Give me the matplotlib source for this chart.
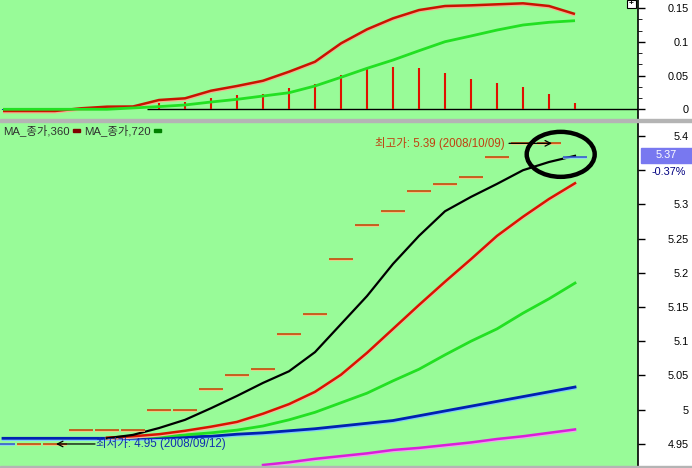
import matplotlib
matplotlib.use('Agg')
import matplotlib.pyplot as plt
import matplotlib.patheffects as pe
from matplotlib.patches import Ellipse, Rectangle
import numpy as np

nan = np.nan
FONT = ['Liberation Sans', 'Noto Sans CJK KR', 'DejaVu Sans']
plt.rcParams['font.family'] = FONT

# ---------------- data ----------------
idx = list(range(23))
close = [4.95, 4.95, 4.95, 4.97, 4.97, 4.97, 5.00, 5.00, 5.03, 5.05, 5.06, 5.11,
         5.14, 5.22, 5.27, 5.29, 5.32, 5.33, 5.34, 5.37, 5.39, 5.39, 5.37]
down_days = [0, 22]

ma_black = [nan] * 4 + [4.958, 4.963, 4.973, 4.985, 5.002, 5.020, 5.039, 5.056, 5.084,
                        5.125, 5.166, 5.213, 5.254, 5.290, 5.311, 5.330, 5.350, 5.362, 5.371]
ma_red = [nan] * 4 + [4.959, 4.961, 4.964, 4.969, 4.975, 4.982, 4.994, 5.008, 5.026,
                      5.051, 5.083, 5.118, 5.153, 5.187, 5.220, 5.254, 5.282, 5.308, 5.331]
ma_green = [nan] * 4 + [4.958, 4.960, 4.961, 4.963, 4.966, 4.970, 4.976, 4.985, 4.996,
                        5.010, 5.024, 5.042, 5.059, 5.080, 5.100, 5.118, 5.141, 5.162, 5.185]
ma_blue = [4.958, 4.958, 4.958, 4.958, 4.958, 4.958, 4.959, 4.960, 4.961, 4.964, 4.966,
           4.969, 4.972, 4.976, 4.980, 4.984, 4.991, 4.998, 5.005, 5.012, 5.019, 5.026, 5.033]
ma_magenta = [nan] * 10 + [4.919, 4.923, 4.928, 4.932, 4.936, 4.941, 4.944, 4.948,
                           4.952, 4.957, 4.961, 4.966, 4.971]

macd = [-0.0025, -0.0025, -0.0025, 0.0015, 0.0039, 0.0042, 0.0138, 0.0163, 0.0276, 0.0346,
        0.0424, 0.0558, 0.0706, 0.0979, 0.1187, 0.135, 0.1473, 0.1533, 0.1543, 0.1558,
        0.1573, 0.1533, 0.1414]
signal = [0.0, 0.0, 0.0, 0.0, 0.0, 0.002, 0.004, 0.0064, 0.0108, 0.0148, 0.0197, 0.0246,
          0.0346, 0.0475, 0.0608, 0.0731, 0.0869, 0.1003, 0.1088, 0.1176, 0.1251, 0.1291, 0.1315]
osc = [-0.0015, -0.0015, -0.0015, 0, 0, 0, 0.0098, 0.011, 0.0168, 0.0212, 0.0227, 0.0316,
       0.0375, 0.0513, 0.0608, 0.0628, 0.0613, 0.0543, 0.0454, 0.0395, 0.0335, 0.0227, 0.0098]

top_ticks = [0, 0.05, 0.1, 0.15]
top_labels = ['0', '0.05', '0.1', '0.15']
bot_ticks = [4.95, 5.0, 5.05, 5.1, 5.15, 5.2, 5.25, 5.3, 5.35, 5.4]
bot_labels = ['4.95', '5', '5.05', '5.1', '5.15', '5.2', '5.25', '5.3', '', '5.4']

last_price = '5.37'
last_change = '-0.37%'
hi_text = '최고가: 5.39 (2008/10/09)'
lo_text = '최저가: 4.95 (2008/09/12)'
legend_items = [('MA_종가,360', '#800000'), ('MA_종가,720', '#008000')]

# ---------------- figure ----------------
W, H = 692, 468
fig = plt.figure(figsize=(W / 100, H / 100), dpi=100)
fig.patch.set_facecolor('white')

BG = '#98FB98'


def fx(px):
    return px / W


def fy(py):
    return 1 - py / H


ax_top = fig.add_axes([0, fy(119), fx(638), 119 / H])
ax_bot = fig.add_axes([0, fy(466), fx(638), 344 / H])

xlim = (-3 / 26, 635 / 26)


def shadow(col, off=-0.75, lw=None):
    k = dict(offset=(0, off), foreground=col)
    if lw is not None:
        k['linewidth'] = lw
    return [pe.Stroke(**k), pe.Normal()]


for ax in (ax_top, ax_bot):
    ax.set_facecolor(BG)
    ax.set_xlim(*xlim)
    ax.set_xticks([])
    for s in ('left', 'top', 'bottom'):
        ax.spines[s].set_visible(False)
    ax.spines['right'].set_color('black')
    ax.spines['right'].set_linewidth(1.2)
    ax.yaxis.tick_right()
    ax.tick_params(axis='y', direction='out', length=5, width=1, pad=31.5,
                   labelsize=7.8, colors='black')

# ---------- top panel ----------
ax_top.set_ylim(-0.0144, 0.1622)
ax_top.hlines(0, 5.54, xlim[1], color='black', lw=1.0, zorder=2)
stem_cols = ['#0020C0' if v < 0 else '#E01000' for v in osc]
ax_top.vlines(idx, 0, osc, colors=stem_cols, lw=1.5, zorder=3)
ax_top.plot(idx, signal, color='#22E022', lw=2.0, zorder=5, solid_capstyle='butt')
ax_top.plot(idx, macd, color='#C81400', lw=1.8, zorder=4, solid_capstyle='butt',
            path_effects=shadow('#F6B090', -0.9, 1.8))
ax_top.set_yticks(top_ticks)
ax_top.set_yticklabels(top_labels)
ax_top.set_yticks(np.arange(-0.0, 0.16, 0.05 / 3), minor=True)
ax_top.tick_params(axis='y', which='minor', length=3, direction='out', right=True)
plt.setp(ax_top.get_yticklabels(), ha='right')

# ---------- bottom panel ----------
ax_bot.set_ylim(4.9175, 5.4205)
ax_bot.plot(idx, ma_magenta, color='#D820D8', lw=1.8, zorder=3,
            path_effects=shadow('#F0A0F0', -0.9, 1.8))
ax_bot.plot(idx, ma_blue, color='#0022B0', lw=2.0, zorder=4,
            path_effects=shadow('#80C8FF', -0.9, 2.0))
ax_bot.plot(idx, ma_green, color='#22E022', lw=2.0, zorder=5)
ax_bot.plot(idx, ma_red, color='#D81400', lw=1.8, zorder=6,
            path_effects=shadow('#F8B8A0', -0.9, 1.8))
ax_bot.plot(idx, ma_black, color='black', lw=1.6, zorder=7)

half = 12 / 26
for i, c in zip(idx, close):
    if i in down_days:
        col, sh = '#3050D0', '#90D0FF'
    else:
        col, sh = '#C83C00', '#FFC080'
    ax_bot.hlines(c, i - half, i + half, colors=col, lw=1.1, zorder=8,
                  path_effects=shadow(sh, -0.8, 1.1))

ax_bot.set_yticks(bot_ticks)
ax_bot.set_yticklabels(bot_labels)
plt.setp(ax_bot.get_yticklabels(), ha='right')

# annotations
ax_bot.text((505 - 3) / 26, 5.3893, hi_text, color='#C04010', fontsize=8.3,
            ha='right', va='center', family=FONT, zorder=10)
ax_bot.annotate('', xy=((552 - 3) / 26, 5.3893), xytext=((509 - 3) / 26, 5.3893),
                arrowprops=dict(arrowstyle='->', color='black', lw=0.9,
                                shrinkA=0, shrinkB=0), zorder=10)
ax_bot.text((96 - 3) / 26, 4.9497, lo_text, color='#1030B0', fontsize=8.3,
            ha='left', va='center', family=FONT, zorder=10)
ax_bot.annotate('', xy=((56 - 3) / 26, 4.9497), xytext=((95 - 3) / 26, 4.9497),
                arrowprops=dict(arrowstyle='->', color='black', lw=0.9,
                                shrinkA=0, shrinkB=0), zorder=10)
ax_bot.add_patch(Ellipse(((560.7 - 3) / 26, 5.3732), 68 / 26, 45 / 684 * 1.0,
                         fill=False, ec='black', lw=3.2, zorder=11))

# legend at top of bottom panel
fig.text(fx(3), fy(130), legend_items[0][0], fontsize=8.2, color='#303030',
         va='center', ha='left', family=FONT)
fig.patches.append(Rectangle((fx(73), fy(131.5)), fx(7), 3 / H, transform=fig.transFigure,
                             color=legend_items[0][1], figure=fig))
fig.text(fx(84), fy(130), legend_items[1][0], fontsize=8.2, color='#303030',
         va='center', ha='left', family=FONT)
fig.patches.append(Rectangle((fx(154), fy(131.5)), fx(7), 3 / H, transform=fig.transFigure,
                             color=legend_items[1][1], figure=fig))

# last price box
fig.patches.append(Rectangle((fx(641), fy(163)), fx(51), 15 / H, transform=fig.transFigure,
                             color='#7878F0', figure=fig, zorder=5))
fig.text(fx(666), fy(155.5), last_price, color='white', fontsize=7.8, ha='center',
         va='center', zorder=6)
fig.text(fx(669), fy(172), last_change, color='#000080', fontsize=7.8, ha='center',
         va='center', zorder=6)

# separators
fig.patches.append(Rectangle((0, fy(122)), 1, 3 / H, transform=fig.transFigure,
                             color='#B4B4B4', figure=fig, zorder=1))
fig.patches.append(Rectangle((0, 0), 1, 2 / H, transform=fig.transFigure,
                             color='#B4B4B4', figure=fig, zorder=1))

# small icon top right of upper panel
fig.patches.append(Rectangle((fx(627), fy(8)), fx(9), 8 / H, transform=fig.transFigure,
                             fc='white', ec='black', lw=0.8, figure=fig, zorder=6))
fig.text(fx(631.5), fy(4), '+', fontsize=6, ha='center', va='center', zorder=7,
         fontweight='bold')

fig.savefig('out.png', dpi=100, facecolor='white')
